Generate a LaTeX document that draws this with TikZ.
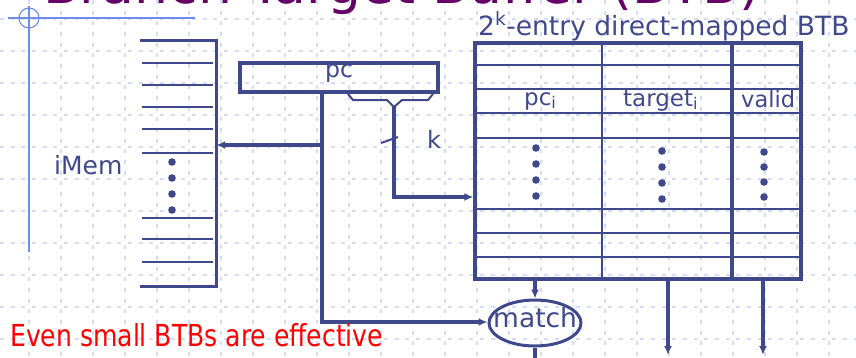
\documentclass[tikz,border=0pt]{standalone}
\usepackage{fontspec}
\setmainfont{DejaVu Sans}
\usetikzlibrary{shapes.geometric,arrows.meta}
\definecolor{lc}{RGB}{64,72,140}
\definecolor{gridc}{RGB}{208,220,248}
\definecolor{guidec}{RGB}{110,140,240}
\definecolor{titlec}{RGB}{102,0,102}
\definecolor{redc}{RGB}{255,0,0}
\newcommand{\fsz}[1]{\fontsize{#1}{#1}\selectfont}
\begin{document}
\begin{tikzpicture}[x=1pt,y=-1pt,
  gridline/.style={draw=gridc, line width=1.3pt, dash pattern=on 4pt off 6.67pt},
  guide/.style={draw=guidec, line width=1.1pt},
  wire/.style={draw=lc, line width=3.2pt},
  arr/.style={wire, -{Latex[length=9pt,width=8pt]}},
  thinline/.style={draw=lc, line width=2pt},
  lbl/.style={text=lc, inner sep=0pt, anchor=base west},
  dot/.style={fill=lc}
]
\useasboundingbox (0,0) rectangle (856,357);
% background grid
\foreach \x in {29,61,...,829} \draw[gridline] (\x,0) -- (\x,357);
\foreach \y in {19,51,...,339} \draw[gridline] (0,\y) -- (856,\y);
% guide marks
\draw[guide] (29,6) -- (29,252);
\draw[guide] (8,18) -- (195,18);
\draw[guide] (29,18) circle (10pt);
% title (cut off at top)
\node[inner sep=0pt, anchor=base west, text=titlec, font=\fsz{53.6}] (title) at (43,3) {Branch Target Buffer (BTB)};
% iMem
\node[inner sep=0pt, minimum width=76pt, minimum height=245pt] (imem) at (178,163.5) {};
\draw[wire] (imem.north west) -- (imem.north east) -- (imem.south east) -- (imem.south west);
\foreach \y in {63,85,107,129,153,218,239,262} \draw[thinline] (142,\y) -- (213,\y);
\foreach \y in {162,178,194,210} \fill[dot] (172,\y) circle (3.8pt);
\node[lbl, font=\fsz{25}] (imemlbl) at (54,174) {iMem};
% pc register
\node[draw=lc, line width=3.2pt, inner sep=0pt, minimum width=198pt, minimum height=29pt] (pc) at (339,77.5) {};
\node[lbl, font=\fsz{23.6}] (pclbl) at (325,77) {pc};
% bracket selecting k bits
\coordinate (kb) at (394,107);
\draw[thinline] (348,94) -- (353,100) -- (387,100) -- (kb) -- (402,100) -- (428,100) -- (433,94);
\draw[thinline] (381,143) -- (398,137);
\node[lbl, font=\fsz{24}] (k) at (427,148) {k};
% BTB
\node[draw=lc, line width=3.2pt, inner sep=0pt, minimum width=326pt, minimum height=236pt] (btb) at (638,161) {};
\node[lbl, font=\fsz{26.5}] (btbtitle) at (478,35) {2\textsuperscript{k}-entry direct-mapped BTB};
\draw[draw=lc, line width=2.4pt] (602,43) -- (602,279);
\draw[draw=lc, line width=3.6pt] (732,43) -- (732,279);
\foreach \y in {65,89,113,138,209,233,257} \draw[thinline] (475,\y) -- (799,\y);
\node[lbl, font=\fsz{23}] (pci) at (524,105) {pc\textsubscript{i}};
\node[lbl, font=\fsz{23}] (targeti) at (623,106) {target\textsubscript{i}};
\node[lbl, font=\fsz{22.5}] (valid) at (741,107) {valid};
\foreach \y in {148,164,180,196} \fill[dot] (536,\y) circle (3.8pt);
\foreach \y in {151,167,183,199} \fill[dot] (662,\y) circle (3.8pt);
\foreach \y in {152,167,182,197} \fill[dot] (764,\y) circle (3.8pt);
% match comparator
\node[draw=lc, line width=3pt, ellipse, inner sep=0pt, minimum width=92pt, minimum height=46pt] (match) at (535,323) {};
\node[lbl, font=\fsz{26.5}] (matchlbl) at (493,327) {match};
% connectors
\coordinate (tap) at (322,92);
\coordinate (j1) at (322,145);
\coordinate (j2) at (322,322);
\coordinate (ky) at (394,197);
\draw[wire] (tap) -- (j1);
\draw[arr] (j1) -- (j1 -| imem.east);
\draw[arr] (j1) -- (j2) -- (j2 -| match.west);
\draw[arr] (kb) -- (ky) -- (ky -| btb.west);
\coordinate (b1) at (535,279);
\draw[arr] (b1) -- (match.north);
\coordinate (out1) at (535,375);
\draw[wire] (match.south) -- (out1);
\coordinate (b2) at (668,279);
\coordinate (o2) at (668,355);
\draw[arr] (b2) -- (o2);
\coordinate (b3) at (763,279);
\coordinate (o3) at (763,355);
\draw[arr] (b3) -- (o3);
% note
\node[inner sep=0pt, anchor=base west, text=redc] (note) at (10,346) {\resizebox{373pt}{23pt}{\fsz{26}Even small BTBs are effective}};
\end{tikzpicture}
\end{document}
